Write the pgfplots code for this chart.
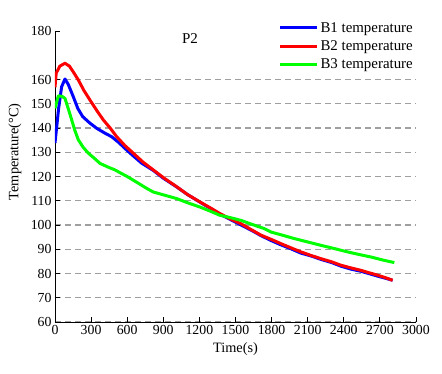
\documentclass[border=0pt]{standalone}
\usepackage{pgfplots}
\pgfplotsset{compat=1.18}
\usepackage{fontspec}
\setmainfont{Liberation Serif}

\begin{document}
\begin{tikzpicture}
\useasboundingbox (-55pt,-52pt) rectangle (387pt,322pt);
\begin{axis}[
    scale only axis,
    width=361pt, height=291pt,
    xmin=0, xmax=3000, ymin=60, ymax=180,
    axis lines*=left,
    axis line style={black, line width=0.9pt},
    xtick={0,300,...,3000},
    ytick={60,70,...,160},
    extra y ticks={180},
    extra y tick style={grid=none},
    tick align=inside,
    major tick length=5pt,
    tick style={black, line width=0.8pt},
    ymajorgrids=true,
    grid style={gray!75, line width=1.1pt, dash pattern=on 6pt off 4pt},
    /pgf/number format/assume math mode=true,
    /pgf/number format/1000 sep={},
    ticklabel style={font=\fontsize{13.8}{15}\selectfont},
    xlabel={Time(s)},
    ylabel={Temperature(°C)},
    label style={font=\fontsize{14.3}{16}\selectfont},
    xlabel style={at={(axis description cs:0.5,-0.093)}, anchor=center},
    ylabel style={at={(axis description cs:-0.111,0.585)}, anchor=center},
    legend style={at={(1,1)}, anchor=north east, xshift=-1pt, yshift=11pt,
        draw=none, fill=none, inner sep=0pt,
        font=\fontsize{14.9}{16}\selectfont, row sep=3pt},
    legend cell align=left,
    legend image code/.code={\draw[#1, line width=3pt] (0pt,0pt) -- (37pt,0pt);},
    every axis plot/.append style={line width=3pt, line join=round},
]
\addplot[blue] coordinates {
(0,133.8) (30,148) (55,157) (83,160.2) (110,158) (152,152.9) (190,148) (230,144.7)
(290,142) (346,139.9) (410,138) (471,136.4) (530,134) (596,130.9) (650,128.5)
(720,125.5) (817,122.5) (900,119.3) (1011,115.7) (1100,112.6) (1205,109.4)
(1300,106.6) (1380,104.2) (1460,102.2) (1546,100.0) (1640,97.6) (1712,95.6)
(1800,93.5) (1878,91.8) (1960,90.2) (2044,88.4) (2130,87.2) (2211,85.8)
(2300,84.5) (2377,83.0) (2460,81.8) (2543,80.9) (2620,79.8) (2682,78.9)
(2750,78.0) (2806,77.2)
};
\addlegendentry{B1 temperature}
\addplot[red] coordinates {
(0,156.8) (10,162.6) (40,165.5) (83,166.7) (120,165.5) (160,162.5) (194,159.8)
(240,155.5) (291,151.5) (350,147) (402,143.3) (460,139.9) (513,136.4) (580,132.8)
(651,129.6) (730,126) (817,122.7) (910,119.2) (1011,115.8) (1100,112.6)
(1205,109.5) (1300,106.8) (1371,104.7) (1460,102.4) (1546,100.5) (1630,98.1)
(1712,95.8) (1800,94.0) (1878,92.3) (1960,90.6) (2044,88.9) (2130,87.4)
(2211,86.1) (2300,84.8) (2377,83.4) (2460,82.3) (2543,81.3) (2610,80.3)
(2682,79.3) (2750,78.2) (2806,77.2)
};
\addlegendentry{B2 temperature}
\addplot[green] coordinates {
(0,148.1) (28,153.3) (60,153) (83,152.2) (110,148) (139,143.3) (165,139) (194,135.1)
(235,132) (277,129.6) (320,127.8) (374,125.4) (440,123.9) (499,122.7) (550,121.3)
(596,120.1) (680,117.6) (762,115.1) (817,113.6) (910,112.3) (1011,110.9)
(1100,109.2) (1205,107.4) (1290,105.7) (1371,104.0) (1460,103.0) (1546,101.9)
(1640,100.2) (1740,98.5) (1795,97.1) (1890,95.8) (1989,94.4) (2100,93.0)
(2211,91.6) (2320,90.3) (2432,88.9) (2530,87.8) (2626,86.8) (2720,85.6)
(2820,84.5)
};
\addlegendentry{B3 temperature}
\node[font=\fontsize{15}{16}\selectfont] at (axis cs:1122,176.7) {P2};
\end{axis}
\end{tikzpicture}
\end{document}
